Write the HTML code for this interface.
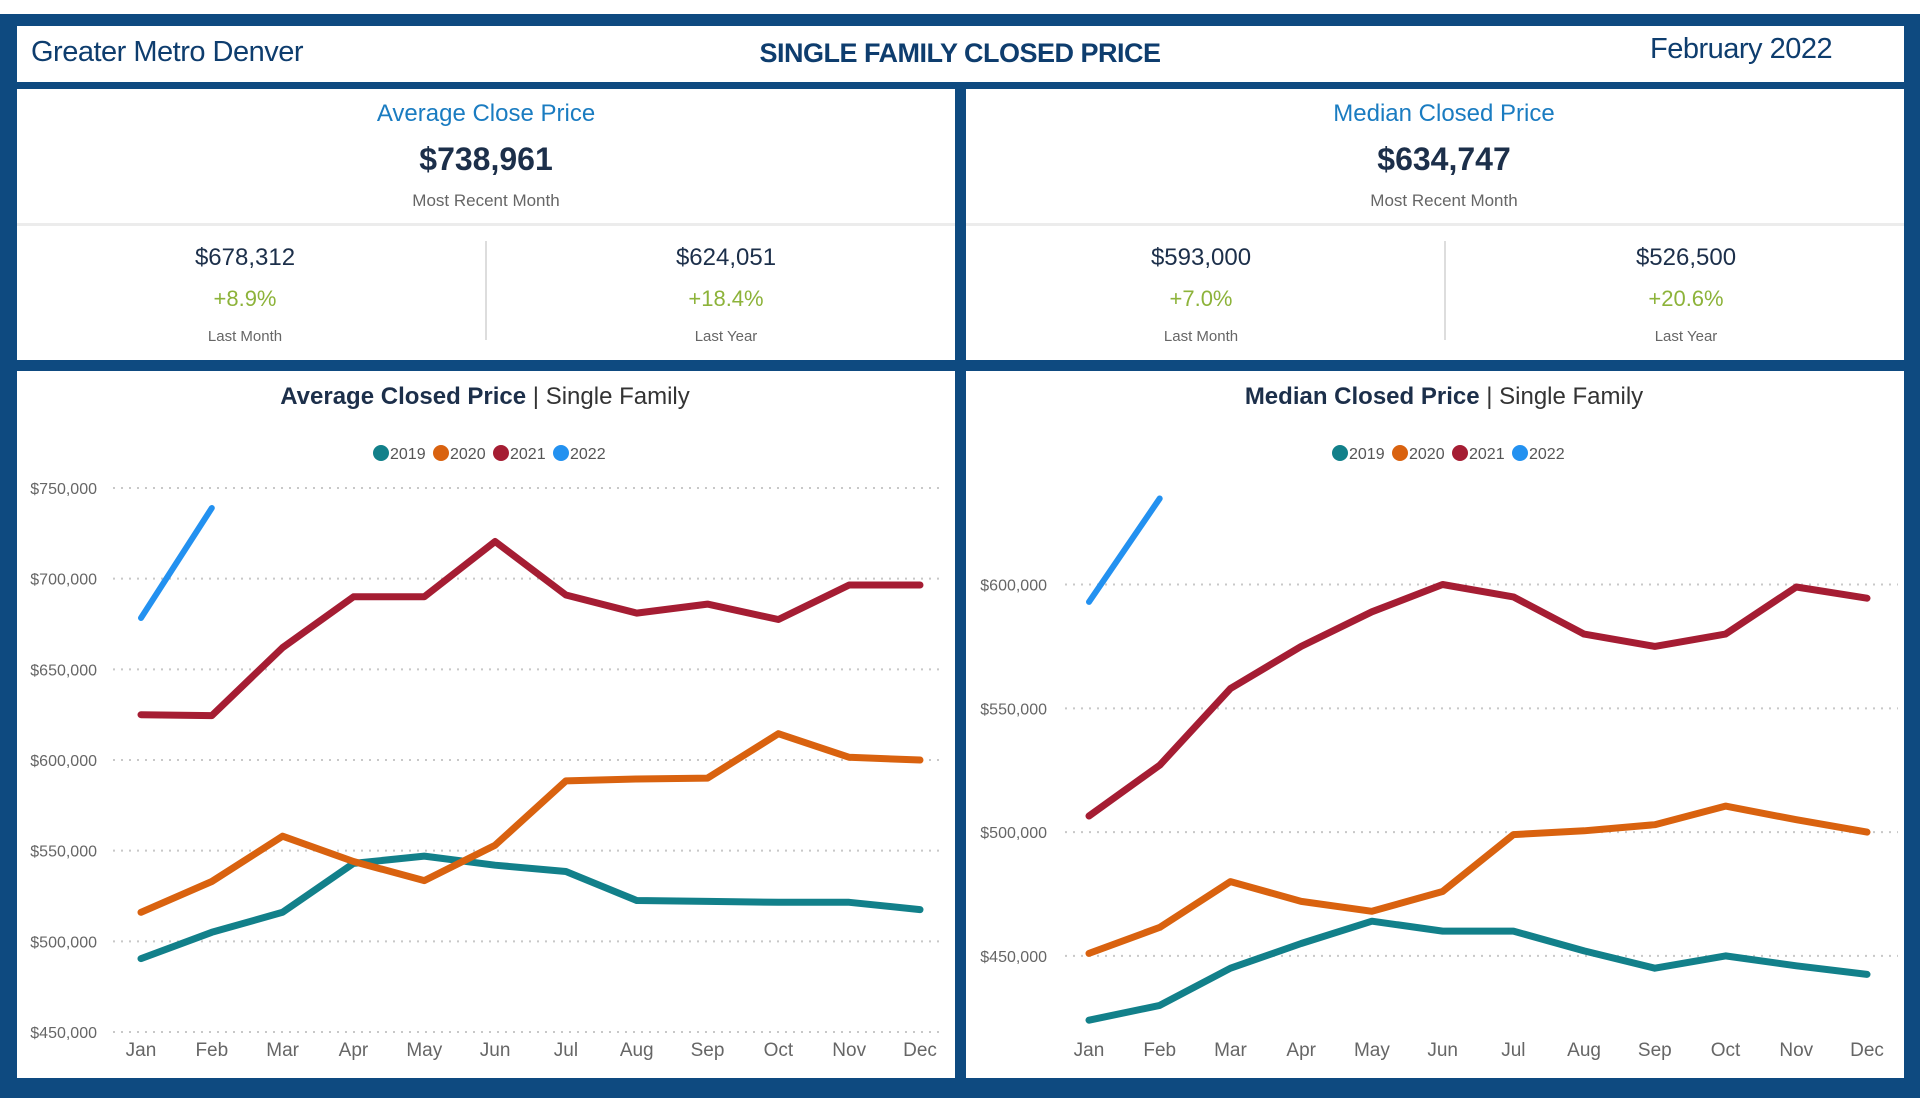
<!DOCTYPE html>
<html><head><meta charset="utf-8"><style>
*{margin:0;padding:0;box-sizing:border-box}
body{width:1920px;height:1110px;background:#fff;position:relative;overflow:hidden;font-family:"Liberation Sans",sans-serif}
.abs{position:absolute}
.frame{left:0;top:14px;width:1920px;height:1084px;background:#0e4a80}
.panel{background:#fff}
.c{text-align:center;white-space:nowrap}
</style></head><body>
<div class="abs frame"></div>
<div class="abs panel" style="left:17px;top:26px;width:1887px;height:56px">
  <div class="abs" style="left:14px;top:10px;font-size:29px;color:#0e3d6e;letter-spacing:-0.5px">Greater Metro Denver</div>
  <div class="abs c" style="left:643px;width:600px;top:12px;font-size:27px;font-weight:bold;color:#0e3d6e;letter-spacing:-0.5px">SINGLE FAMILY CLOSED PRICE</div>
  <div class="abs" style="left:1633px;top:7px;font-size:29px;color:#0e3d6e;letter-spacing:-0.5px">February 2022</div>
</div>

<!-- KPI panels -->
<div class="abs panel" style="left:17px;top:89px;width:938px;height:271px">
  <div class="abs c" style="left:0;width:938px;top:11px;font-size:24px;color:#1a7cc1">Average Close Price</div>
  <div class="abs c" style="left:0;width:938px;top:52px;font-size:32px;font-weight:bold;color:#1c2f4a">$738,961</div>
  <div class="abs c" style="left:0;width:938px;top:102px;font-size:17px;color:#666">Most Recent Month</div>
  <div class="abs" style="left:0;top:134px;width:938px;height:3px;background:#ececec"></div>
  <div class="abs" style="left:468px;top:152px;width:2px;height:99px;background:#ddd"></div>
  <div class="abs c" style="left:128px;width:200px;top:155px;font-size:24px;color:#1c2f4a">$678,312</div>
  <div class="abs c" style="left:128px;width:200px;top:197px;font-size:22px;color:#8db33a">+8.9%</div>
  <div class="abs c" style="left:128px;width:200px;top:239px;font-size:15px;color:#666">Last Month</div>
  <div class="abs c" style="left:609px;width:200px;top:155px;font-size:24px;color:#1c2f4a">$624,051</div>
  <div class="abs c" style="left:609px;width:200px;top:197px;font-size:22px;color:#8db33a">+18.4%</div>
  <div class="abs c" style="left:609px;width:200px;top:239px;font-size:15px;color:#666">Last Year</div>
</div>
<div class="abs panel" style="left:966px;top:89px;width:938px;height:271px">
  <div class="abs c" style="left:0;width:956px;top:11px;font-size:24px;color:#1a7cc1">Median Closed Price</div>
  <div class="abs c" style="left:0;width:956px;top:52px;font-size:32px;font-weight:bold;color:#1c2f4a">$634,747</div>
  <div class="abs c" style="left:0;width:956px;top:102px;font-size:17px;color:#666">Most Recent Month</div>
  <div class="abs" style="left:0;top:134px;width:938px;height:3px;background:#ececec"></div>
  <div class="abs" style="left:478px;top:152px;width:2px;height:99px;background:#ddd"></div>
  <div class="abs c" style="left:135px;width:200px;top:155px;font-size:24px;color:#1c2f4a">$593,000</div>
  <div class="abs c" style="left:135px;width:200px;top:197px;font-size:22px;color:#8db33a">+7.0%</div>
  <div class="abs c" style="left:135px;width:200px;top:239px;font-size:15px;color:#666">Last Month</div>
  <div class="abs c" style="left:620px;width:200px;top:155px;font-size:24px;color:#1c2f4a">$526,500</div>
  <div class="abs c" style="left:620px;width:200px;top:197px;font-size:22px;color:#8db33a">+20.6%</div>
  <div class="abs c" style="left:620px;width:200px;top:239px;font-size:15px;color:#666">Last Year</div>
</div>

<!-- chart panels -->
<div class="abs panel" style="left:17px;top:371px;width:938px;height:707px"></div>
<div class="abs panel" style="left:966px;top:371px;width:938px;height:707px"></div>
<svg class="abs" style="left:0;top:0" width="1920" height="1110" id="charts"></svg>

<script>
const months = ["Jan","Feb","Mar","Apr","May","Jun","Jul","Aug","Sep","Oct","Nov","Dec"];
const seriesYears = ["2019","2020","2021","2022"];
const seriesColors = ["#12808a","#d9620f","#a51d33","#2391f0"];
const avg2019 = [490.5,505,516,543,547,542,538.5,522.5,522,521.5,521.5,517.5];
const avg2020 = [516,533,558,544,533.5,553,588.5,589.5,590,614.5,601.5,600];
const avg2021 = [625,624.5,662,690,690,720.5,691,681,686,677.5,696.5,696.5];
const avg2022 = [678.312,738.961];
const avgTicks = [450,500,550,600,650,700,750];
const med2019 = [424,430,445,455,464,460,460,452,445,450,446,442.5];
const med2020 = [451,461.5,480,472,468,476,499,500.5,503,510.5,505,500];
const med2021 = [506.5,527,558,575,589,600,595,580,575,580,599,594.5];
const med2022 = [593,634.747];
const medTicks = [450,500,550,600];

const NS = "http://www.w3.org/2000/svg";
const svg = document.getElementById("charts");
function mk(tag, attrs, parent){
  const e = document.createElementNS(NS, tag);
  for (const k in attrs) e.setAttribute(k, attrs[k]);
  (parent||svg).appendChild(e);
  return e;
}
function fmt(v){return "$"+v+",000";}

function chart(cfg){
  const g = mk("g",{});
  
  
  const xf = i => cfg.x0 + i*(cfg.x1-cfg.x0)/11;
  const yf = v => cfg.yTop + (cfg.dMax - v)/(cfg.dMax - cfg.dMin)*(cfg.yBot-cfg.yTop);
  // title
  const t = mk("text",{x:cfg.cx,y:404,"text-anchor":"middle","font-size":24,fill:"#1c2f4a"},g);
  
  
  const b = mk("tspan",{"font-weight":"bold"},t); b.textContent = cfg.title;
  const s = mk("tspan",{fill:"#333"},t); s.textContent = " | Single Family";
  // legend
  let lx = cfg.cx - 112;
  seriesYears.forEach((y,i)=>{
    const c = mk("circle",{cx:lx+8,cy:453,r:8,fill:seriesColors[i]},g);
    
    
    const lt = mk("text",{x:lx+17,y:459,"font-size":16,fill:"#555"},g);
    lt.textContent = y;
    
    
    lx += 60;
  });
  // grid + y ticks
  cfg.ticks.forEach(v=>{
    const y = yf(v);
    const gl = mk("line",{x1:cfg.gx0,x2:cfg.gx1,y1:y,y2:y,stroke:"#c8c8c8","stroke-width":2,"stroke-dasharray":"2,6"},g);
    
    
    const tl = mk("text",{x:cfg.lx,y:y+6,"text-anchor":"end","font-size":16,fill:"#666"},g);
    tl.textContent = fmt(v);
    
    
  });
  months.forEach((m,i)=>{
    const ml = mk("text",{x:xf(i),y:1056,"text-anchor":"middle","font-size":19,fill:"#666"},g);
    ml.textContent = m;
    
    
  });
  cfg.series.forEach((arr,si)=>{
    const pts = arr.map((v,i)=>xf(i).toFixed(1)+","+yf(v).toFixed(1)).join(" ");
    const p = mk("polyline",{points:pts,fill:"none",stroke:seriesColors[si],"stroke-width":si==3?6:7,"stroke-linejoin":"round","stroke-linecap":"round"},g);
    
    
  });
}
chart({name:"average-price-chart",title:"Average Closed Price",cx:485,x0:141,x1:920,gx0:113,gx1:943,lx:97,
  yTop:488,yBot:1032,dMin:450,dMax:750,ticks:avgTicks,series:[avg2019,avg2020,avg2021,avg2022]});
chart({name:"median-price-chart",title:"Median Closed Price",cx:1444,x0:1089,x1:1867,gx0:1065,gx1:1898,lx:1047,
  yTop:488,yBot:1042,dMin:415.2,dMax:639,ticks:medTicks,series:[med2019,med2020,med2021,med2022]});
</script>
</body></html>
